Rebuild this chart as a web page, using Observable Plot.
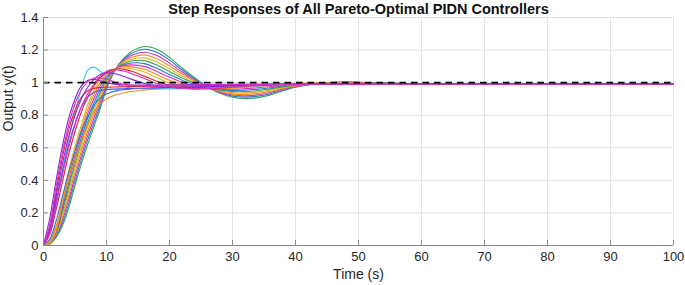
<!DOCTYPE html>
<html><head><meta charset="utf-8">
<script src="https://cdn.jsdelivr.net/npm/d3@7"></script>
<script src="https://cdn.jsdelivr.net/npm/@observablehq/plot@0.6"></script>
<style>html,body{margin:0;padding:0;background:#fff;} #chart svg{display:block;}</style>
</head><body><div id="chart"></div>
<script>
// ---- data ----
const title = "Step Responses of All Pareto-Optimal PIDN Controllers";
const xLabel = "Time (s)";
const yLabel = "Output y(t)";
const xTicks = [0,10,20,30,40,50,60,70,80,90,100];
const yTicks = [0,0.2,0.4,0.6,0.8,1,1.2,1.4];
const xDomain = [0,100];
const yDomain = [0,1.4];
const setpoint = [1];

// time samples (s)
const T = [0,1,2,3,4,5,6,7,8,9,10,11,12,13,14,
           16,18,20,22,24,26,28,30,32,34,36,38,40,
           44,48,52,60,70,100];

// overshooting family (O9 = largest overshoot)
const O0 = [0,0.02,0.10,0.28,0.46,0.61,0.74,0.86,0.95,1.02,1.06,1.08,1.09,1.09,1.085,
            1.065,1.03,0.998,0.978,0.968,0.965,0.967,0.973,0.98,0.986,0.991,0.994,0.996,
            0.998,0.997,0.995,0.991,0.99,0.99];
const O1 = [0,0.019,0.094,0.262,0.434,0.583,0.713,0.833,0.926,1.0,1.049,1.077,1.093,1.098,1.097,
            1.082,1.049,1.015,0.990,0.975,0.966,0.963,0.966,0.971,0.977,0.984,0.989,0.993,
            0.998,0.998,0.996,0.991,0.99,0.99];
const O2 = [0,0.018,0.089,0.244,0.409,0.557,0.687,0.807,0.901,0.98,1.038,1.073,1.096,1.106,1.109,
            1.100,1.069,1.033,1.003,0.982,0.967,0.960,0.959,0.963,0.969,0.976,0.984,0.991,
            0.998,0.999,0.996,0.991,0.99,0.99];
const O3 = [0,0.017,0.083,0.227,0.383,0.53,0.66,0.78,0.877,0.96,1.027,1.07,1.098,1.113,1.121,
            1.117,1.088,1.050,1.015,0.989,0.968,0.956,0.952,0.954,0.960,0.969,0.979,0.988,
            0.998,0.999,0.997,0.991,0.99,0.99];
const O4 = [0,0.016,0.078,0.209,0.358,0.503,0.633,0.753,0.852,0.94,1.016,1.067,1.101,1.121,1.133,
            1.135,1.108,1.068,1.028,0.996,0.969,0.953,0.945,0.945,0.951,0.962,0.974,0.985,
            0.998,1.0,0.997,0.991,0.99,0.99];
const O5 = [0,0.014,0.072,0.191,0.332,0.477,0.607,0.727,0.828,0.92,1.004,1.063,1.104,1.129,1.144,
            1.152,1.127,1.085,1.040,1.002,0.971,0.949,0.938,0.937,0.943,0.954,0.970,0.983,
            0.997,1.001,0.998,0.992,0.99,0.99];
const O6 = [0,0.013,0.067,0.173,0.307,0.45,0.58,0.70,0.803,0.90,0.993,1.06,1.107,1.137,1.156,
            1.170,1.147,1.103,1.053,1.009,0.972,0.946,0.931,0.928,0.934,0.947,0.965,0.980,
            0.997,1.002,0.998,0.992,0.99,0.99];
const O7 = [0,0.012,0.061,0.156,0.281,0.423,0.553,0.673,0.779,0.88,0.982,1.057,1.109,1.144,1.168,
            1.187,1.166,1.120,1.065,1.016,0.973,0.942,0.924,0.919,0.925,0.940,0.960,0.977,
            0.997,1.002,0.999,0.992,0.99,0.99];
const O8 = [0,0.011,0.056,0.138,0.256,0.397,0.527,0.647,0.754,0.86,0.971,1.053,1.112,1.152,1.180,
            1.205,1.186,1.138,1.078,1.023,0.974,0.939,0.917,0.911,0.917,0.932,0.955,0.975,
            0.997,1.003,0.999,0.992,0.99,0.99];
const O9 = [0,0.01,0.05,0.12,0.23,0.37,0.50,0.62,0.73,0.84,0.96,1.05,1.115,1.16,1.192,
            1.222,1.205,1.155,1.09,1.03,0.975,0.935,0.91,0.902,0.908,0.925,0.95,0.972,
            0.997,1.004,1.0,0.992,0.99,0.99];

// fast-rising family
const F0 = [0,0.17,0.40,0.61,0.78,0.90,0.98,1.013,1.02,1.012,1.0,0.992,0.988,0.986,0.985,
            0.985,0.985,0.986,0.987,0.988,0.989,0.99,0.99,0.99,0.99,0.99,0.99,0.99,
            0.99,0.99,0.99,0.99,0.99,0.99];
const F1 = [0,0.13,0.36,0.57,0.74,0.87,0.955,1.005,1.028,1.03,1.022,1.008,0.996,0.988,0.984,
            0.98,0.979,0.98,0.982,0.984,0.986,0.988,0.989,0.99,0.99,0.99,0.99,0.99,
            0.99,0.99,0.99,0.99,0.99,0.99];
const F2 = [0,0.11,0.33,0.54,0.71,0.83,0.91,0.95,0.965,0.97,0.972,0.973,0.974,0.975,0.976,
            0.977,0.978,0.979,0.98,0.981,0.982,0.983,0.984,0.985,0.986,0.987,0.988,0.989,
            0.99,0.99,0.99,0.99,0.99,0.99];
const F3 = [0,0.10,0.30,0.50,0.67,0.80,0.90,0.97,1.02,1.05,1.06,1.058,1.048,1.035,1.02,
            0.995,0.978,0.97,0.968,0.97,0.974,0.978,0.982,0.985,0.988,0.99,0.99,0.99,
            0.99,0.99,0.99,0.99,0.99,0.99];
const F4 = [0,0.08,0.25,0.43,0.60,0.74,0.85,0.93,0.99,1.04,1.07,1.08,1.077,1.068,1.055,
            1.025,0.995,0.975,0.965,0.962,0.964,0.968,0.974,0.979,0.984,0.988,0.99,0.991,
            0.992,0.992,0.991,0.99,0.99,0.99];
const F5 = [0,0.07,0.22,0.39,0.56,0.70,0.82,0.91,0.98,1.03,1.062,1.08,1.085,1.08,1.07,
            1.04,1.008,0.983,0.968,0.962,0.962,0.966,0.972,0.978,0.983,0.987,0.99,0.992,
            0.993,0.993,0.992,0.991,0.99,0.99];
const F6 = [0,0.08,0.27,0.45,0.62,0.75,0.85,0.91,0.94,0.952,0.957,0.96,0.962,0.963,0.964,
            0.966,0.968,0.97,0.972,0.974,0.976,0.978,0.98,0.982,0.984,0.986,0.987,0.988,
            0.989,0.99,0.99,0.99,0.99,0.99];
// slow creeping responses
const C0 = [0,0.03,0.12,0.26,0.40,0.53,0.64,0.74,0.82,0.87,0.90,0.918,0.93,0.94,0.946,
            0.955,0.962,0.967,0.971,0.974,0.977,0.979,0.981,0.983,0.985,0.986,0.987,0.988,
            0.989,0.99,0.99,0.99,0.99,0.99];
const C1 = [0,0.04,0.15,0.30,0.45,0.58,0.70,0.79,0.86,0.905,0.93,0.945,0.953,0.958,0.962,
            0.966,0.969,0.972,0.974,0.976,0.978,0.98,0.982,0.984,0.985,0.986,0.987,0.988,
            0.989,0.99,0.99,0.99,0.99,0.99];
// early-peaking outlier
const K0 = [0,0.07,0.26,0.46,0.65,0.82,0.96,1.075,1.095,1.07,1.035,1.0,0.983,0.973,0.967,
            0.963,0.962,0.962,0.963,0.965,0.968,0.971,0.974,0.977,0.98,0.983,0.985,0.987,
            0.989,0.99,0.99,0.99,0.99,0.99];

// ---- styles ----
const GREEN = "#34a84a", BLUE = "#2b78d8", MAGENTA = "#d633c8", ORANGE = "#f5861f",
      YELLOW = "#e2b31c", RED = "#e2242e", PURPLE = "#8a22d8", CYAN = "#45c2f0", VIOLET = "#5b4fe0";

const seriesList = [
  [O9, GREEN], [O8, BLUE], [O7, MAGENTA], [O6, ORANGE], [O5, YELLOW],
  [O4, GREEN], [O3, BLUE], [O2, MAGENTA], [O1, ORANGE], [O0, YELLOW],
  [C0, ORANGE], [C1, BLUE], [K0, CYAN], [F6, VIOLET], [F5, RED], [F2, RED],
  [F0, PURPLE], [F3, PURPLE], [F1, MAGENTA], [F4, MAGENTA]
];

const FONT = "'Liberation Sans', Arial, Helvetica, sans-serif";
const GRID = "#e4e4e4";
const AXIS = "#8a8a8a";

const lineMarks = seriesList.map(([vals, color]) =>
  Plot.line(T.map((t, i) => ({t, y: vals[i]})), {
    x: "t", y: "y", stroke: color, strokeWidth: 1.1, curve: "catmull-rom"
  })
);

const chart = Plot.plot({
  width: 685, height: 285,
  marginLeft: 43, marginRight: 12, marginTop: 17, marginBottom: 40,
  style: {fontFamily: FONT, fontSize: "13px", color: "#262626", background: "#fff", overflow: "visible"},
  x: {domain: xDomain},
  y: {domain: yDomain},
  marks: [
    Plot.gridX(xTicks, {stroke: GRID, strokeOpacity: 1}),
    Plot.gridY(yTicks, {stroke: GRID, strokeOpacity: 1}),
    ...lineMarks,
    Plot.ruleY(setpoint, {x1: xDomain[0], x2: xDomain[1], stroke: "#000", strokeWidth: 1.7, strokeDasharray: "6.5,5"}),
    Plot.ruleX([xDomain[0]], {stroke: AXIS, strokeWidth: 1}),
    Plot.ruleY([yDomain[0]], {stroke: AXIS, strokeWidth: 1}),
    Plot.tickX(xTicks, {x: d => d, insetTop: 223, stroke: AXIS}),
    Plot.tickY(yTicks, {y: d => d, insetRight: 625, stroke: AXIS}),
    Plot.axisX(xTicks, {tickSize: 0, tickPadding: 6, label: null, tickFormat: d => String(d), fontSize: 13, fill: "#262626"}),
    Plot.axisY(yTicks, {tickSize: 0, tickPadding: 5, label: null, tickFormat: d => String(d), fontSize: 13, fill: "#262626"}),
    Plot.text([xLabel], {text: d => d, frameAnchor: "bottom", lineAnchor: "middle", dy: 29, fontSize: 14, fill: "#262626"}),
    Plot.text([yLabel], {text: d => d, frameAnchor: "left", lineAnchor: "middle", rotate: -90, dx: -35, fontSize: 14, fill: "#262626"}),
    Plot.text([title], {text: d => d, frameAnchor: "top", lineAnchor: "middle", dy: -8, fontSize: 14.5, fontWeight: "bold", fill: "#111"})
  ]
});
document.getElementById("chart").appendChild(chart);
</script>
</body></html>
